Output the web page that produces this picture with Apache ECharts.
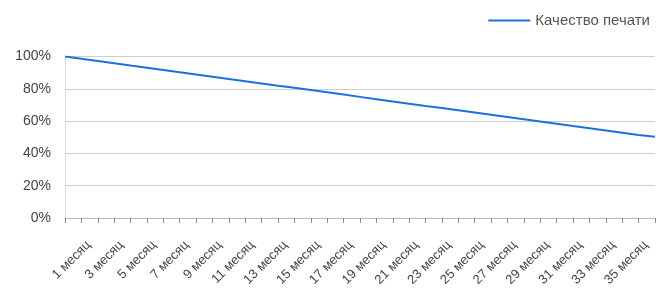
<!DOCTYPE html>
<html>
<head>
<meta charset="utf-8">
<script src="https://cdn.jsdelivr.net/npm/echarts@6/dist/echarts.min.js"></script>
<style>html,body{margin:0;padding:0;background:#fff}#c{width:670px;height:292px}</style>
</head>
<body>
<div id="c"></div>
<script>
const months = ["0 месяц","1 месяц","2 месяц","3 месяц","4 месяц","5 месяц","6 месяц","7 месяц","8 месяц","9 месяц","10 месяц","11 месяц","12 месяц","13 месяц","14 месяц","15 месяц","16 месяц","17 месяц","18 месяц","19 месяц","20 месяц","21 месяц","22 месяц","23 месяц","24 месяц","25 месяц","26 месяц","27 месяц","28 месяц","29 месяц","30 месяц","31 месяц","32 месяц","33 месяц","34 месяц","35 месяц","36 месяц"];
const quality = [100,98.6,97.2,95.8,94.4,93.1,91.7,90.3,88.9,87.5,86.1,84.7,83.3,81.9,80.6,79.2,77.8,76.4,75.0,73.6,72.2,70.8,69.4,68.1,66.7,65.3,63.9,62.5,61.1,59.7,58.3,56.9,55.6,54.2,52.8,51.4,50.3];
const seriesName = "Качество печати";
const yTicks = [0,20,40,60,80,100];

const chart = echarts.init(document.getElementById('c'), null, {renderer:'canvas'});
chart.setOption({
  animation:false,
  textStyle:{fontFamily:'"Liberation Sans", Arial, sans-serif'},
  legend:{
    right:15, top:8,
    itemWidth:42, itemHeight:14, itemGap:10,
    icon:'path://M0,6L42,6L42,8L0,8Z',
    textStyle:{fontSize:15,color:'#555'},
    data:[{name:seriesName}]
  },
  grid:{left:65,right:15,top:56.5,bottom:74,containLabel:false},
  xAxis:{
    type:'category',
    data:months,
    boundaryGap:false,
    axisLine:{lineStyle:{color:'#bbb',width:1}},
    axisTick:{show:true,interval:0,length:5,lineStyle:{color:'#888'}},
    splitLine:{show:false},
    axisLabel:{
      interval:(i)=> i%2===1,
      rotate:45,
      fontSize:13,
      color:'#444',
      margin:18,
      verticalAlign:'top',
      lineHeight:20
    }
  },
  yAxis:{
    type:'value',
    min:yTicks[0], max:yTicks[yTicks.length-1], interval:20,
    axisLine:{show:true,lineStyle:{color:'#ddd'}},
    axisTick:{show:false},
    splitLine:{lineStyle:{color:'#ccc',width:1}},
    axisLabel:{formatter:'{value}%',fontSize:14,color:'#444',margin:14}
  },
  series:[{
    name:seriesName,
    type:'line',
    data:quality,
    showSymbol:false,
    symbol:'none',
    lineStyle:{color:'#1f6fe0',width:2},
    itemStyle:{color:'#1f6fe0'}
  }]
});
</script>
</body>
</html>
